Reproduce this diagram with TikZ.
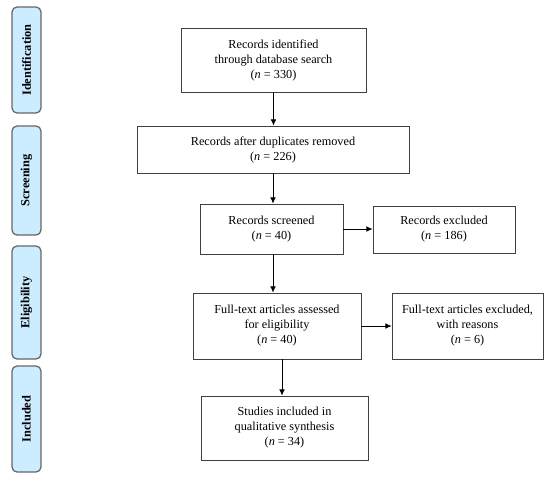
\documentclass[tikz,border=0pt]{standalone}
\usepackage{fontspec}
\setmainfont{Liberation Serif}
\usetikzlibrary{arrows.meta}
\definecolor{phasefill}{RGB}{204,236,255}
\begin{document}
\begin{tikzpicture}[x=0.8pt,y=-0.8pt,
  box/.style={draw=black!75,line width=0.6pt,align=center,inner sep=2pt,font=\fontsize{9.8}{12}\selectfont},
  phase/.style={draw=black!60,line width=1pt,fill=phasefill,rounded corners=4pt,rotate=90,minimum height=23.2pt,inner sep=0pt,font=\fontsize{9.9}{10}\selectfont\bfseries},
  arr/.style={-{Latex[length=5pt,width=4.5pt]},line width=0.6pt}]
\useasboundingbox (0,0) rectangle (550,477);
\node[phase,minimum width=84.8pt] (pident) at (26.5,60) {Identification};
\node[phase,minimum width=87.2pt] (pscreen) at (26.5,180.5) {Screening};
\node[phase,minimum width=90.4pt] (pelig) at (26.5,302.5) {Eligibility};
\node[phase,minimum width=84.8pt] (pincl) at (26.5,419) {Included};
\node[box,minimum width=148pt,minimum height=51.2pt] (ident) at (273.5,60) {Records identified\\through database search\\(\textit{n} = 330)};
\node[box,minimum width=217.6pt,minimum height=37.6pt] (dupl) at (273,149.5) {Records after duplicates removed\\(\textit{n} = 226)};
\node[box,minimum width=114.4pt,minimum height=40pt] (screen) at (271.5,229) {Records screened\\(\textit{n} = 40)};
\node[box,minimum width=113.6pt,minimum height=37.6pt] (excl) at (444,229.5) {Records excluded\\(\textit{n} = 186)};
\node[box,minimum width=134.4pt,minimum height=52.8pt] (full) at (277,326) {Full-text articles assessed\\for eligibility\\(\textit{n} = 40)};
\node[box,minimum width=120.8pt,minimum height=52.8pt] (fexcl) at (467.5,326) {Full-text articles excluded,\\with reasons\\(\textit{n} = 6)};
\node[box,minimum width=133.6pt,minimum height=51.2pt] (incl) at (284.5,428) {Studies included in\\qualitative synthesis\\(\textit{n} = 34)};
\draw[arr] (ident.south) -- (ident.south |- dupl.north);
\draw[arr] ([xshift=1.2pt]screen.north |- dupl.south) -- ([xshift=1.2pt]screen.north);
\draw[arr] (screen.east) -- (screen.east -| excl.west);
\draw[arr] ([xshift=1.2pt]screen.south) -- ([xshift=1.2pt]screen.south |- full.north);
\draw[arr] (full.east) -- (full.east -| fexcl.west);
\draw[arr] ([xshift=4pt]full.south) -- ([xshift=4pt]full.south |- incl.north);
\end{tikzpicture}
\end{document}
